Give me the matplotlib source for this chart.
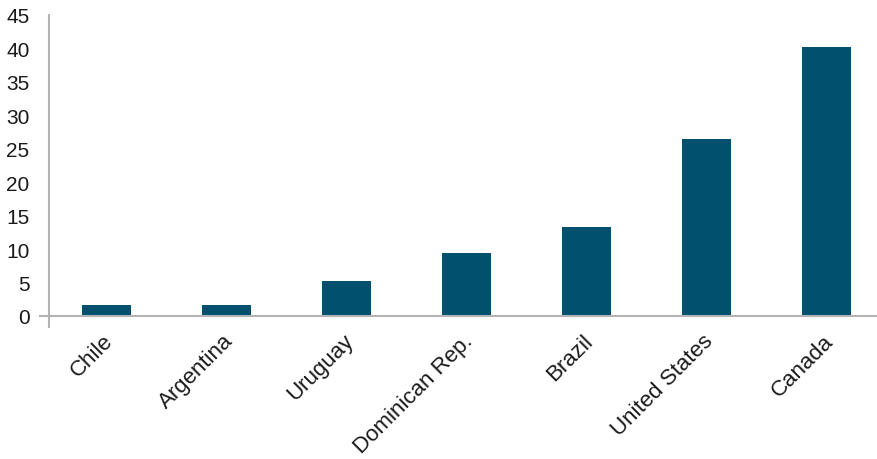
import matplotlib
matplotlib.use("Agg")
import matplotlib.pyplot as plt
from matplotlib.transforms import ScaledTranslation

countries = ["Chile", "Argentina", "Uruguay", "Dominican Rep.", "Brazil",
             "United States", "Canada"]
values = [1.7, 1.7, 5.2, 9.4, 13.3, 26.5, 40.2]
yticks = [0, 5, 10, 15, 20, 25, 30, 35, 40, 45]

plt.rcParams["font.family"] = ["Liberation Sans", "DejaVu Sans"]

fig = plt.figure(figsize=(8.77, 4.60), dpi=100)
ax = fig.add_axes([49 / 877, 143 / 460, 827 / 877, 301 / 460])

x = list(range(len(countries)))
ax.bar(x, values, width=0.41, color="#00506E", zorder=2)

ax.set_xlim(-0.48, 6.41)
ax.set_ylim(0, 45)
ax.set_yticks(yticks)
ax.set_yticklabels([str(t) for t in yticks])
ax.set_xticks(x)
ax.set_xticklabels(countries, rotation=45, ha="right", va="top",
                   rotation_mode="anchor")

ax.tick_params(axis="y", length=0, pad=14, labelsize=15, colors="#1a1a1a")
ax.tick_params(axis="x", length=0, pad=10, labelsize=16, colors="#1a1a1a")

# nudge the rotated category labels slightly to the left
shift = ScaledTranslation(-4 / 100, 0, fig.dpi_scale_trans)
for lbl in ax.get_xticklabels():
    lbl.set_transform(lbl.get_transform() + shift)

for side in ("top", "right"):
    ax.spines[side].set_visible(False)
for side in ("left", "bottom"):
    ax.spines[side].set_color("#b3b3b3")
    ax.spines[side].set_linewidth(1.5)
# let the two axis lines overshoot the origin slightly
ax.spines["left"].set_bounds(-1.6, 45)
ax.spines["bottom"].set_bounds(-0.555, 6.41)

fig.savefig("out.png", dpi=100)
